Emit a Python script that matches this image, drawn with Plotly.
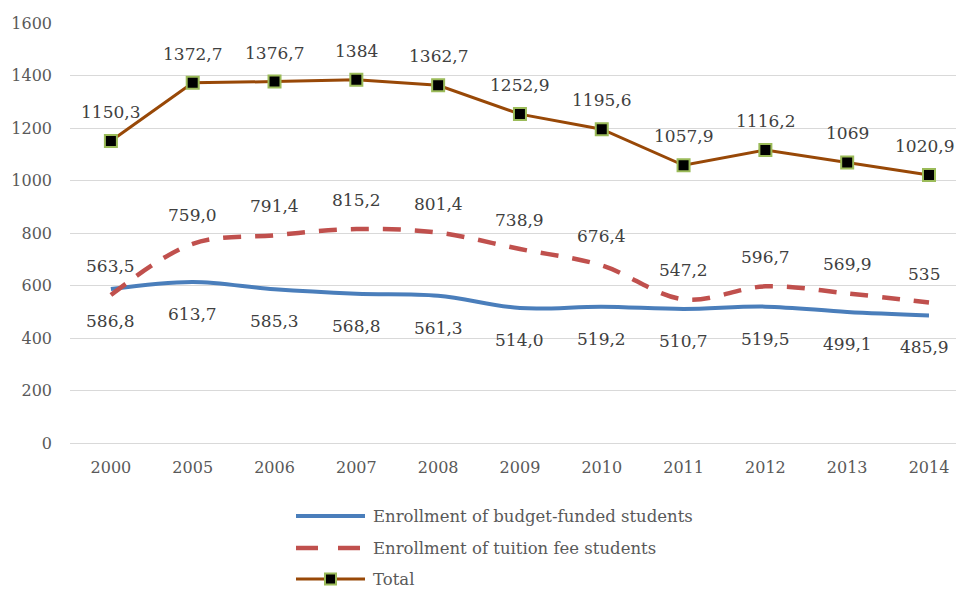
import plotly.graph_objects as go

# Enrollment data (thousands of students); labels use a decimal comma
years = ["2000", "2005", "2006", "2007", "2008", "2009", "2010", "2011", "2012", "2013", "2014"]
budget_labels = ["586,8", "613,7", "585,3", "568,8", "561,3", "514,0", "519,2", "510,7", "519,5", "499,1", "485,9"]
tuition_labels = ["563,5", "759,0", "791,4", "815,2", "801,4", "738,9", "676,4", "547,2", "596,7", "569,9", "535"]
total_labels = ["1150,3", "1372,7", "1376,7", "1384", "1362,7", "1252,9", "1195,6", "1057,9", "1116,2", "1069", "1020,9"]


def to_num(labels):
    return [float(s.replace(",", ".")) for s in labels]


budget = to_num(budget_labels)
tuition = to_num(tuition_labels)
total = to_num(total_labels)

BLUE = "#4a7ebb"
RED = "#c0504d"
BROWN = "#984807"
GREEN = "#9bbb59"
FONT = "DejaVu Serif"

fig = go.Figure()
fig.add_trace(go.Scatter(x=years, y=budget, mode="lines", line=dict(color=BLUE, width=4, shape="spline"),
                         name="Enrollment of budget-funded students", showlegend=False))
fig.add_trace(go.Scatter(x=years, y=tuition, mode="lines",
                         line=dict(color=RED, width=4.5, shape="spline", dash="18px,14px"),
                         name="Enrollment of tuition fee students", showlegend=False))
fig.add_trace(go.Scatter(x=years, y=total, mode="lines+markers", line=dict(color=BROWN, width=3),
                         marker=dict(symbol="square", size=12, color="black", line=dict(color=GREEN, width=2)),
                         name="Total", showlegend=False))

# Value labels (x given as category index); the last column is nudged left to stay inside the page
annotations = []
last = len(years) - 1
for ys, labs, shift in ((budget, budget_labels, -32),
                        (tuition, tuition_labels, 29),
                        (total, total_labels, 29)):
    for i, (y, t) in enumerate(zip(ys, labs)):
        annotations.append(dict(x=i, y=y, xref="x", yref="y", text=t, showarrow=False, yshift=shift,
                                xshift=-5 if i == last else 0,
                                font=dict(family=FONT, size=17, color="#404040")))

# Legend drawn below the plot area
PLOT_TOP, PLOT_BOTTOM, PLOT_LEFT, WIDTH = 23, 443, 70, 956
pw = WIDTH - PLOT_LEFT
ph = PLOT_BOTTOM - PLOT_TOP


def px(x):
    return (x - PLOT_LEFT) / pw


def py(y):
    return (PLOT_BOTTOM - y) / ph


shapes = []
legend_items = [("Enrollment of budget-funded students", 516),
                ("Enrollment of tuition fee students", 548),
                ("Total", 579)]
shapes.append(dict(type="line", xref="paper", yref="paper", x0=px(296), x1=px(365), y0=py(516), y1=py(516),
                   line=dict(color=BLUE, width=4)))
for a, b in ((296, 318), (338, 360)):
    shapes.append(dict(type="line", xref="paper", yref="paper", x0=px(a), x1=px(b), y0=py(548), y1=py(548),
                       line=dict(color=RED, width=4.5)))
shapes.append(dict(type="line", xref="paper", yref="paper", x0=px(296), x1=px(365), y0=py(579), y1=py(579),
                   line=dict(color=BROWN, width=3)))
shapes.append(dict(type="rect", xref="paper", yref="paper", x0=px(325), x1=px(336), y0=py(584.5), y1=py(573.5),
                   fillcolor="black", line=dict(color=GREEN, width=2)))
for text, yy in legend_items:
    annotations.append(dict(xref="paper", yref="paper", x=px(371), y=py(yy), text=text, showarrow=False,
                            xanchor="left", yanchor="middle",
                            font=dict(family=FONT, size=16.5, color="#595959")))

fig.update_layout(
    width=WIDTH, height=590,
    font=dict(family=FONT),
    margin=dict(l=PLOT_LEFT, r=0, t=PLOT_TOP, b=590 - PLOT_BOTTOM),
    plot_bgcolor="white", paper_bgcolor="white",
    annotations=annotations, shapes=shapes,
    showlegend=False,
    xaxis=dict(type="category", range=[-0.5, 10.33], showgrid=False, showline=True, linecolor="#d9d9d9",
               linewidth=1, ticks="", tickfont=dict(family=FONT, size=16, color="#595959"),
               ticklabelstandoff=10, fixedrange=True),
    yaxis=dict(range=[0, 1600], dtick=200, showgrid=True, gridcolor="#d9d9d9", gridwidth=1,
               zeroline=False, showline=False, ticks="",
               tickfont=dict(family=FONT, size=16, color="#595959"), ticklabelstandoff=17),
)

fig.write_html("out.html")
